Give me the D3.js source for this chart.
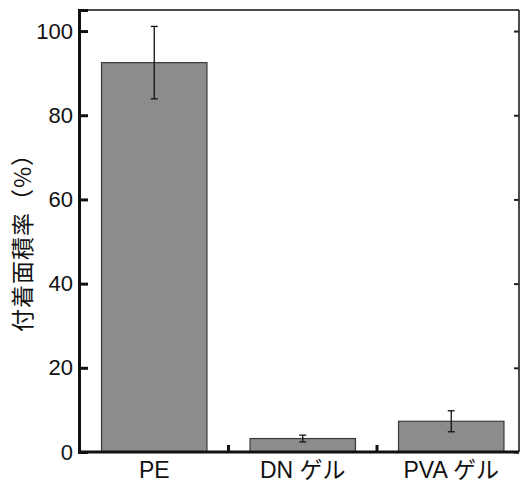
<!DOCTYPE html>
<html><head><meta charset="utf-8">
<script src="https://cdn.jsdelivr.net/npm/d3@7"></script>
<style>body{margin:0;background:#fff}svg{display:block}</style>
</head><body><div id="c"></div>
<script>
const categories = ["PE", "DN ゲル", "PVA ゲル"];
const values = [92.5, 3.2, 7.3];
const errors = [8.6, 0.8, 2.5];
const yTicks = [0, 20, 40, 60, 80, 100];
const yTitle = "付着面積率（%）";

(function () {
const W = 523, H = 488;
const mL = 79, mR = 519, mT = 10, mB = 452;
const svg = d3.select("#c").append("svg").attr("width", W).attr("height", H);

const y = d3.scaleLinear().domain([0, 105]).range([mB, mT]);
const x = d3.scaleBand().domain(categories).range([80, 525.5]).paddingInner(0.29).paddingOuter(0.145);

// bars
svg.selectAll("rect.bar").data(values).join("rect").attr("class", "bar")
  .attr("x", (d, i) => x(categories[i]))
  .attr("width", x.bandwidth())
  .attr("y", d => y(d))
  .attr("height", d => y(0) - y(d))
  .attr("fill", "#8c8c8c").attr("stroke", "#3a3a3a").attr("stroke-width", 1.2);

// error bars
const eb = svg.append("g").attr("stroke", "#111").attr("stroke-width", 1.3);
values.forEach((v, i) => {
  const cx = x(categories[i]) + x.bandwidth() / 2;
  eb.append("line").attr("x1", cx).attr("x2", cx).attr("y1", y(v + errors[i])).attr("y2", y(v - errors[i]));
  [v + errors[i], v - errors[i]].forEach(e => {
    eb.append("line").attr("x1", cx - 3.5).attr("x2", cx + 3.5).attr("y1", y(e)).attr("y2", y(e));
  });
});

// frame
svg.append("line").attr("x1", mL).attr("x2", mR).attr("y1", mT).attr("y2", mT).attr("stroke", "#111").attr("stroke-width", 1.5);
svg.append("line").attr("x1", mR).attr("x2", mR).attr("y1", mT).attr("y2", mB).attr("stroke", "#111").attr("stroke-width", 1.5);

// left axis
const yAxis = d3.axisLeft(y).tickValues(yTicks).tickSize(-9).tickPadding(4).tickFormat(d3.format("d"));
const gy = svg.append("g").attr("transform", `translate(${mL},0)`).call(yAxis);
gy.select(".domain").attr("stroke", "#111").attr("stroke-width", 3);
gy.selectAll(".tick line").attr("stroke", "#111").attr("stroke-width", 3);
gy.selectAll(".tick text").attr("font-family", "Liberation Sans, Arial, sans-serif").attr("font-size", 22).attr("fill", "#111").attr("x", -6);

// right axis ticks
const gr = svg.append("g").attr("transform", `translate(${mR},0)`).call(d3.axisRight(y).tickValues(yTicks).tickSize(-5).tickFormat(""));
gr.select(".domain").remove();
gr.selectAll(".tick line").attr("stroke", "#222").attr("stroke-width", 2);

// bottom axis
const xAxis = d3.axisBottom(x).tickSize(0).tickPadding(10);
const gx = svg.append("g").attr("transform", `translate(0,${mB})`).call(xAxis);
gx.select(".domain").attr("d", `M${mL},0H${mR}`).attr("stroke", "#111").attr("stroke-width", 3);
gx.selectAll(".tick text").attr("font-family", "Liberation Sans, 'Noto Sans CJK JP', Arial, sans-serif").attr("font-size", 23).attr("fill", "#111");
// category separators
const seps = categories.slice(1).map(c => x(c) - x.step() * x.paddingInner() / 2);
svg.selectAll("line.sep").data(seps).join("line").attr("class", "sep")
  .attr("x1", d => d).attr("x2", d => d).attr("y1", mB).attr("y2", mB - 7)
  .attr("stroke", "#111").attr("stroke-width", 3);

// y title
svg.append("text").attr("transform", `translate(31,237) rotate(-90)`)
  .attr("text-anchor", "middle").attr("font-family", "'Noto Sans CJK JP', sans-serif").attr("font-size", 23)
  .attr("letter-spacing", 1).attr("fill", "#111")
  .text(yTitle);
})();
</script></body></html>
